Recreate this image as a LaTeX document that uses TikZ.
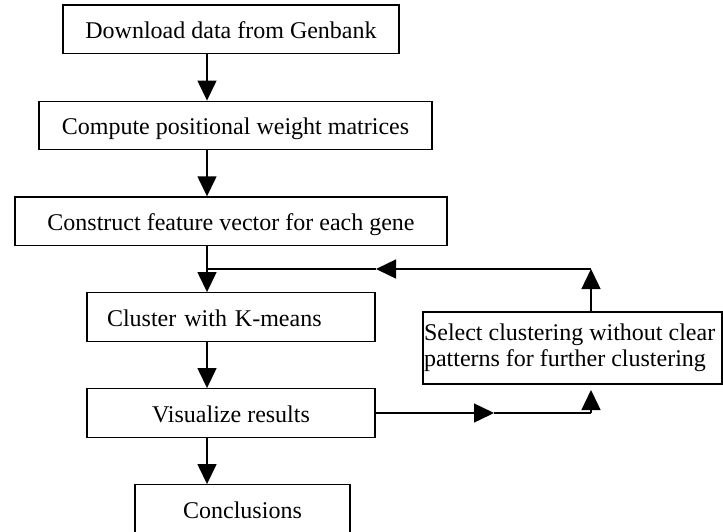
\documentclass[tikz,border=0pt]{standalone}
\usepackage{fontspec}
\setmainfont{Liberation Serif}
\usetikzlibrary{arrows.meta}
\begin{document}
\begin{tikzpicture}[x=1pt,y=-1pt,
  box/.style={draw, line width=1.4pt, inner sep=0pt, minimum height=48.5pt,
    text height=18pt, text depth=0pt, font=\fontsize{24}{27.6}\selectfont},
  line/.style={line width=1.4pt},
  arr/.style={line width=1.4pt, -{Triangle[length=20pt,width=19pt]}}]
\clip (0,0) rectangle (723,531);
\node[box, minimum width=336pt] (b1) at (231,29.25) {Download data from Genbank};
\node[box, minimum width=393pt] (b2) at (235.5,125.5) {Compute positional weight matrices};
\node[box, minimum width=432pt] (b3) at (231,221.25) {Construct feature vector for each gene};
\node[box, inner xsep=20pt, text width=248pt, align=left] (b4) at (231,317) {Cluster with K-means};
\node[box, minimum width=288pt] (b5) at (231,413) {Visualize results};
\node[box, minimum width=215pt] (b6) at (242.5,509) {Conclusions};
\node[draw, line width=1.4pt, inner xsep=1pt, inner ysep=0pt, text width=297pt, align=flush left,
  minimum height=72pt, font=\fontsize{24}{26.5}\selectfont] (sel) at (572.5,348)
  {\mbox{Select clustering without clear}\\\mbox{patterns for further clustering}\\[3pt]};
\coordinate (ax) at (207,0);
\coordinate (j) at (207,269);
\coordinate (c1) at (591,269);
\coordinate (ltip) at (376,269);
\coordinate (c2) at (591,413);
\coordinate (rtip) at (494,413);
\coordinate (utip) at (591,390);
\draw[arr] (b1.south -| ax) -- (b2.north -| ax);
\draw[arr] (b2.south -| ax) -- (b3.north -| ax);
\draw[arr] (b3.south -| ax) -- (b4.north -| ax);
\draw[arr] (b4.south -| ax) -- (b5.north -| ax);
\draw[arr] (b5.south -| ax) -- (b6.north -| ax);
\draw[arr] (c1 |- sel.north) -- (c1);
\draw[arr] (c1) -- (ltip);
\draw[line] (ltip) -- (j);
\draw[arr] (b5.east) -- (rtip);
\draw[line] (rtip) -- (c2);
\draw[arr] (c2) -- (utip);
\end{tikzpicture}
\end{document}
